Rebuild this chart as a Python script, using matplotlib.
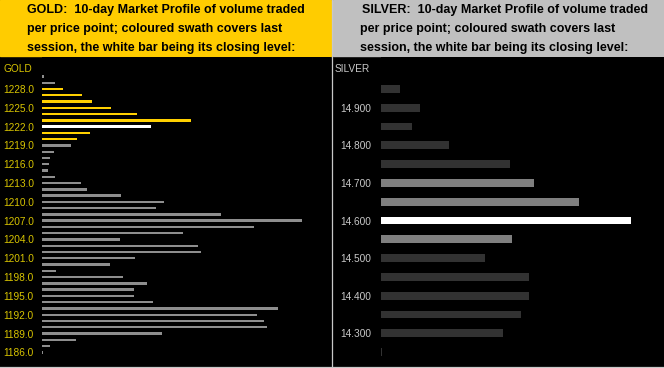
import matplotlib
matplotlib.use("Agg")
import matplotlib.pyplot as plt
from matplotlib.patches import Rectangle
from matplotlib.lines import Line2D

plt.rcParams['font.family'] = ['Liberation Sans', 'DejaVu Sans']

# ---------------- data ----------------
gold_prices = [1230, 1229, 1228, 1227, 1226, 1225, 1224, 1223, 1222, 1221, 1220,
               1219, 1218, 1217, 1216, 1215, 1214, 1213, 1212, 1211, 1210, 1209,
               1208, 1207, 1206, 1205, 1204, 1203, 1202, 1201, 1200, 1199, 1198,
               1197, 1196, 1195, 1194, 1193, 1192, 1191, 1190, 1189, 1188, 1187, 1186]
gold_volume = [2, 13, 21, 40, 50, 69, 95, 149, 109, 48, 35,
               29, 12, 8, 7, 6, 13, 39, 45, 79, 122, 114,
               179, 260, 212, 141, 78, 156, 159, 93, 68, 14, 81,
               105, 92, 92, 111, 236, 215, 222, 225, 120, 34, 8, 1]
gold_session_low, gold_session_high, gold_close = 1220, 1228, 1222
gold_ticks = [1186, 1189, 1192, 1195, 1198, 1201, 1204, 1207, 1210, 1213,
              1216, 1219, 1222, 1225, 1228]

silver_prices = [14.95, 14.90, 14.85, 14.80, 14.75, 14.70, 14.65, 14.60,
                 14.55, 14.50, 14.45, 14.40, 14.35, 14.30, 14.25]
silver_volume = [19, 39, 31, 68, 129, 153, 198, 250, 131, 104, 148, 148, 140, 122, 1]
silver_session_low, silver_session_high, silver_close = 14.55, 14.70, 14.60
silver_ticks = [14.3, 14.4, 14.5, 14.6, 14.7, 14.8, 14.9]

gold_title = ["GOLD:  10-day Market Profile of volume traded",
              "per price point; coloured swath covers last",
              "session, the white bar being its closing level:"]
silver_title = ["SILVER:  10-day Market Profile of volume traded",
                "per price point; coloured swath covers last",
                "session, the white bar being its closing level:"]

# ---------------- layout helpers ----------------
W, H = 664, 368
fig = plt.figure(figsize=(W / 100, H / 100), dpi=100, facecolor='black')


def frac(x0, y0, x1, y1):
    return [x0 / W, 1 - y1 / H, (x1 - x0) / W, (y1 - y0) / H]


# headers
fig.add_artist(Rectangle((0, 1 - 56 / H), 331 / W, 56 / H,
                         transform=fig.transFigure, color='#FFCC00', zorder=0))
fig.add_artist(Rectangle((333 / W, 1 - 56 / H), (W - 333) / W, 56 / H,
                         transform=fig.transFigure, color='#C0C0C0', zorder=0))
# divider and bottom line
fig.add_artist(Line2D([331.5 / W, 331.5 / W], [1 - 366 / H, 1], transform=fig.transFigure,
                      color='#C8C8C8', lw=0.9))
fig.add_artist(Line2D([0, 1], [1 - 366.5 / H, 1 - 366.5 / H], transform=fig.transFigure,
                      color='#C8C8C8', lw=0.9))

for i, line in enumerate(gold_title):
    fig.text(27 / W, 1 - (10 + 19 * i) / H, line, ha='left', va='center',
             fontsize=9.0, fontweight='bold', color='black')
for i, line in enumerate(silver_title):
    fig.text((362 if i == 0 else 360) / W, 1 - (10 + 19 * i) / H, line, ha='left',
             va='center', fontsize=9.0, fontweight='bold', color='black')

# ---------------- gold panel ----------------
gx0, gx1 = 42.3, 331
axg = fig.add_axes(frac(gx0, 57, gx1, 365))
axg.set_facecolor('black')
gcolors = []
for p in gold_prices:
    if p == gold_close:
        gcolors.append('white')
    elif gold_session_low <= p <= gold_session_high:
        gcolors.append('#FFD000')
    else:
        gcolors.append('#8E8E8E')
axg.barh(gold_prices, gold_volume, height=0.38, color=gcolors, align='center')
px_per_unit = 6.27
axg.set_ylim(1228 - (365 - 89) / px_per_unit, 1228 + (89 - 57) / px_per_unit)
axg.set_xlim(0, gx1 - gx0)
axg.set_yticks(gold_ticks)
axg.set_yticklabels([f"{t:.1f}" for t in gold_ticks])
axg.tick_params(axis='y', length=0, pad=(gx0 - 3) * 0.72, labelsize=7.3,
                labelcolor='#D8C400')
for lab in axg.get_yticklabels():
    lab.set_ha('left')
axg.set_xticks([])
for s in axg.spines.values():
    s.set_visible(False)
fig.text(4 / W, 1 - 69 / H, "GOLD", ha='left', va='center', fontsize=7.3, color='#D8C400')

# ---------------- silver panel ----------------
sx0, sx1 = 381.3, 664
axs = fig.add_axes(frac(sx0, 57, sx1, 365))
axs.set_facecolor('black')
scolors = []
for p in silver_prices:
    if abs(p - silver_close) < 1e-9:
        scolors.append('white')
    elif silver_session_low - 1e-9 <= p <= silver_session_high + 1e-9:
        scolors.append('#7F7F7F')
    else:
        scolors.append('#323232')
axs.barh(silver_prices, silver_volume, height=0.0205, color=scolors, align='center')
spx = 376.0
axs.set_ylim(14.9 - (365 - 107.7) / spx, 14.9 + (107.7 - 57) / spx)
axs.set_xlim(0, sx1 - sx0)
axs.set_yticks(silver_ticks)
axs.set_yticklabels([f"{t:.3f}" for t in silver_ticks])
axs.tick_params(axis='y', length=0, pad=(sx0 - 371) * 0.72, labelsize=7.3,
                labelcolor='#C8C8C8')
axs.set_xticks([])
for s in axs.spines.values():
    s.set_visible(False)
fig.text(335 / W, 1 - 69 / H, "SILVER", ha='left', va='center', fontsize=7.3, color='#C8C8C8')

fig.savefig('out.png', dpi=100, facecolor='black')
